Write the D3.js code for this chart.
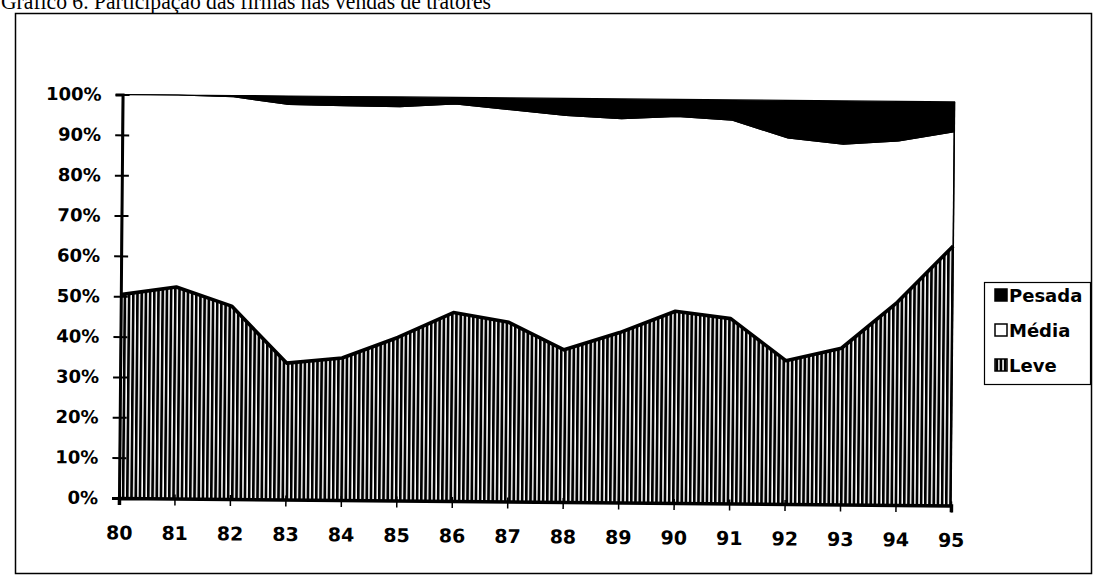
<!DOCTYPE html>
<html>
<head>
<meta charset="utf-8">
<script src="https://cdn.jsdelivr.net/npm/d3@7"></script>
<style>
  html, body { margin: 0; padding: 0; background: #fff; }
  svg { display: block; }
  text { font-family: "DejaVu Sans", sans-serif; font-weight: bold; fill: #000; }
</style>
</head>
<body>
<svg id="chart" width="1108" height="583"></svg>
<script>
const years = ["80","81","82","83","84","85","86","87","88","89","90","91","92","93","94","95"];
const leve   = [50.4, 52.4, 47.8, 33.8, 35.2, 40.4, 46.7, 44.4, 37.7, 42.1, 47.5, 45.8, 35.5, 38.7, 50.2, 64.3];
const media  = [49.6, 47.6, 51.9, 64.1, 62.5, 57.2, 51.7, 52.7, 58.1, 53.0, 48.3, 49.2, 55.2, 50.6, 40.0, 28.3];
const pesada = [0.0, 0.0, 0.3, 2.1, 2.3, 2.4, 1.6, 2.9, 4.2, 4.9, 4.2, 5.0, 9.3, 10.7, 9.8, 7.4];
const yTicks = [0,10,20,30,40,50,60,70,80,90,100];
const seriesNames = ["Leve","Média","Pesada"];
const legendOrder = ["Pesada","Média","Leve"];
const titleText = "Gráfico 6. Participação das firmas nas vendas de tratores";

const table = years.map((yr, i) => ({year: yr, Leve: leve[i], "Média": media[i], Pesada: pesada[i]}));

const svg = d3.select("#chart");
const defs = svg.append("defs");
const pat = defs.append("pattern").attr("id","hatch")
  .attr("patternUnits","userSpaceOnUse").attr("width",4.2).attr("height",10);
pat.append("rect").attr("width",4.2).attr("height",10).attr("fill","#fff");
pat.append("rect").attr("width",2.7).attr("height",10).attr("fill","#000");

const fills = {Leve: "url(#hatch)", "Média": "#fff", Pesada: "#000"};

// title (cut off at top in original)
svg.append("text").attr("x", 1).attr("y", 9)
  .attr("textLength", 490).attr("lengthAdjust","spacingAndGlyphs")
  .style("font-family", "'Liberation Serif', serif").style("font-weight","normal")
  .style("font-size","24px").text(titleText);

// outer frame
svg.append("rect").attr("x",15.5).attr("y",13.5).attr("width",1076).attr("height",560)
  .attr("fill","none").attr("stroke","#000").attr("stroke-width",1.5);

const x = d3.scalePoint(years, [119, 951]);
const y = d3.scaleLinear([0, 100], [498, 94.5]);

const g = svg.append("g").attr("transform", "rotate(0.508, 119, 498)");

const stack = d3.stack().keys(seriesNames)(table);
const area = d3.area().x(d => x(d.data.year)).y0(d => y(d[0])).y1(d => y(d[1]));

g.selectAll("path.layer").data(stack).join("path")
  .attr("class","layer")
  .attr("d", area)
  .attr("fill", d => fills[d.key])
  .attr("stroke", "#000")
  .attr("stroke-width", d => d.key === "Leve" ? 1 : 1.2);

// thick Leve top line
const line = d3.line().x(d => x(d.data.year)).y(d => y(d[1]));
g.append("path").attr("d", line(stack[0])).attr("fill","none")
  .attr("stroke","#000").attr("stroke-width",3.6).attr("stroke-linejoin","round");

// right edge vertical
g.append("line").attr("x1", x("95")).attr("x2", x("95")).attr("y1", y(0)).attr("y2", y(100))
  .attr("stroke","#000").attr("stroke-width",1.5);

// y axis
const yAxis = d3.axisLeft(y).tickValues(yTicks).tickFormat(d => d + "%").tickSize(7).tickPadding(14);
const ya = g.append("g").attr("transform", `translate(${x("80")},0)`).call(yAxis);
ya.select(".domain").attr("stroke-width", 3);
ya.selectAll(".tick line").attr("x2", 7).attr("x1", -7).attr("stroke-width", 2);
ya.selectAll(".tick text").style("font-size","18px").style("font-family","'DejaVu Sans', sans-serif").style("font-weight","bold");

// x axis
const xAxis = d3.axisBottom(x).tickSize(7).tickPadding(21);
const xa = g.append("g").attr("transform", `translate(0,${y(0)})`).call(xAxis);
xa.select(".domain").attr("stroke-width", 3.5);
xa.selectAll(".tick line").attr("y1", -4).attr("stroke-width", 1.5);
xa.selectAll(".tick text").style("font-size","19px").style("font-family","'DejaVu Sans', sans-serif").style("font-weight","bold");

// legend
const lg = svg.append("g");
lg.append("rect").attr("x",984.5).attr("y",282.5).attr("width",106).attr("height",102)
  .attr("fill","#fff").attr("stroke","#000").attr("stroke-width",1.2);
const ly = d3.scalePoint(legendOrder, [295, 365]);
legendOrder.forEach(k => {
  lg.append("rect").attr("x", 995).attr("y", ly(k) - 6).attr("width", 12).attr("height", 12)
    .attr("fill", fills[k]).attr("stroke","#000").attr("stroke-width",1.5);
  lg.append("text").attr("x", 1009).attr("y", ly(k) + 7).style("font-size","18px").text(k);
});
</script>
</body>
</html>
